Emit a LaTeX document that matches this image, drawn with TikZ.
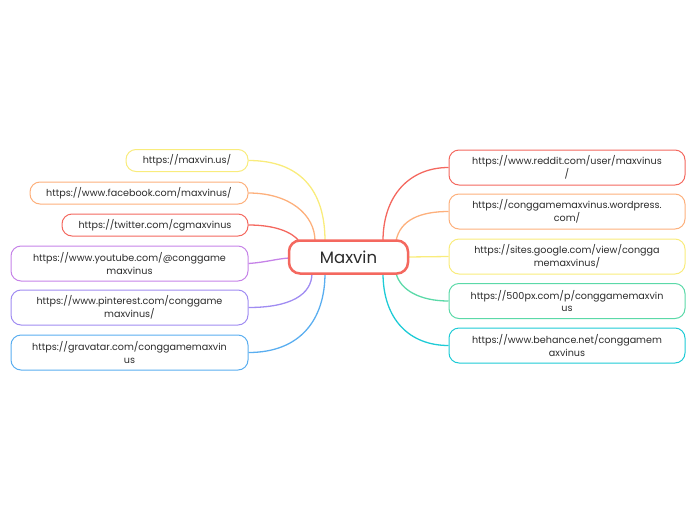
\documentclass[tikz,border=0pt]{standalone}
\usepackage{fontspec}
\setmainfont{Poppins}
\definecolor{cred}{HTML}{F4685F}
\definecolor{corange}{HTML}{FDB07C}
\definecolor{cyellow}{HTML}{F9EC7C}
\definecolor{cpurple}{HTML}{C683E8}
\definecolor{cviolet}{HTML}{A08CF2}
\definecolor{cblue}{HTML}{5AAEF0}
\definecolor{cgreen}{HTML}{5BD9A8}
\definecolor{ccyan}{HTML}{1ECBD6}
\definecolor{ctext}{HTML}{2B2B2B}
\begin{document}
\begin{tikzpicture}[x=1pt,y=-1pt,
  leaf/.style={draw, line width=1pt, rounded corners=10pt, fill=white, text=ctext,
    font=\fontsize{9.6}{12.5}\selectfont, align=center, inner sep=0pt, anchor=center},
  link/.style={line width=1.3pt},
  root/.style={draw=cred, line width=2.5pt, rounded corners=11pt, fill=white, text=ctext,
    font=\fontsize{16.5}{18}\selectfont, minimum width=119pt, minimum height=33pt, inner sep=0pt}]
\useasboundingbox (0,0) rectangle (697,520);
% coordinates on the root
\coordinate (ly) at (325,241);
\coordinate (lo) at (315,241);
\coordinate (lr) at (299,241);
\coordinate (lp) at (289,258);
\coordinate (lv) at (312,273);
\coordinate (lb) at (325,273);
\coordinate (rr) at (383,241);
\coordinate (ro) at (396,241);
\coordinate (ry) at (408,257);
\coordinate (rg) at (396,273);
\coordinate (rc) at (383,273);
% left nodes
\node[leaf, draw=cyellow, minimum width=122pt, minimum height=22pt] (n1) at (187,160.5) {https://maxvin.us/};
\node[leaf, draw=corange, minimum width=218pt, minimum height=22pt] (n2) at (139,193) {https://www.facebook.com/maxvinus/};
\node[leaf, draw=cred, minimum width=186pt, minimum height=22pt] (n3) at (155,225) {https://twitter.com/cgmaxvinus};
\node[leaf, draw=cpurple, minimum width=237pt, minimum height=35pt] (n4) at (129.5,263.5) {https://www.youtube.com/@conggame\\maxvinus};
\node[leaf, draw=cviolet, minimum width=237pt, minimum height=35pt] (n5) at (129.5,307.5) {https://www.pinterest.com/conggame\\maxvinus/};
\node[leaf, draw=cblue, minimum width=237pt, minimum height=35pt] (n6) at (129.5,352.5) {https://gravatar.com/conggamemaxvin\\us};
% right nodes
\node[leaf, draw=cred, minimum width=236pt, minimum height=35pt] (m1) at (567,167.5) {https://www.reddit.com/user/maxvinus\\/};
\node[leaf, draw=corange, minimum width=236pt, minimum height=35pt] (m2) at (567,211.5) {https://conggamemaxvinus.wordpress.\\com/};
\node[leaf, draw=cyellow, minimum width=236pt, minimum height=35pt] (m3) at (567,256.5) {https://sites.google.com/view/congga\\memaxvinus/};
\node[leaf, draw=cgreen, minimum width=236pt, minimum height=35pt] (m4) at (567,301) {https://500px.com/p/conggamemaxvin\\us};
\node[leaf, draw=ccyan, minimum width=236pt, minimum height=35pt] (m5) at (567,345.5) {https://www.behance.net/conggamem\\axvinus};
% connectors
\draw[link, cyellow] (n1.east) .. controls (300,160.5) and (325,190) .. (ly);
\draw[link, corange] (n2.east) .. controls (290,193) and (315,215) .. (lo);
\draw[link, cred] (n3.east) .. controls (275,225) and (292,232) .. (lr);
\draw[link, cpurple] (n4.east) .. controls (268,262) and (275,259) .. (lp);
\draw[link, cviolet] (n5.east) .. controls (290,307.5) and (312,295) .. (lv);
\draw[link, cblue] (n6.east) .. controls (300,352.5) and (325,320) .. (lb);
\draw[link, cred] (m1.west) .. controls (410,167.5) and (383,195) .. (rr);
\draw[link, corange] (m2.west) .. controls (420,211.5) and (400,220) .. (ro);
\draw[link, cyellow] (m3.west) -- (ry);
\draw[link, cgreen] (m4.west) .. controls (420,301) and (400,290) .. (rg);
\draw[link, ccyan] (m5.west) .. controls (410,345.5) and (383,320) .. (rc);
\node[root] (root) at (348.5,257) {Maxvin};
\end{tikzpicture}
\end{document}
